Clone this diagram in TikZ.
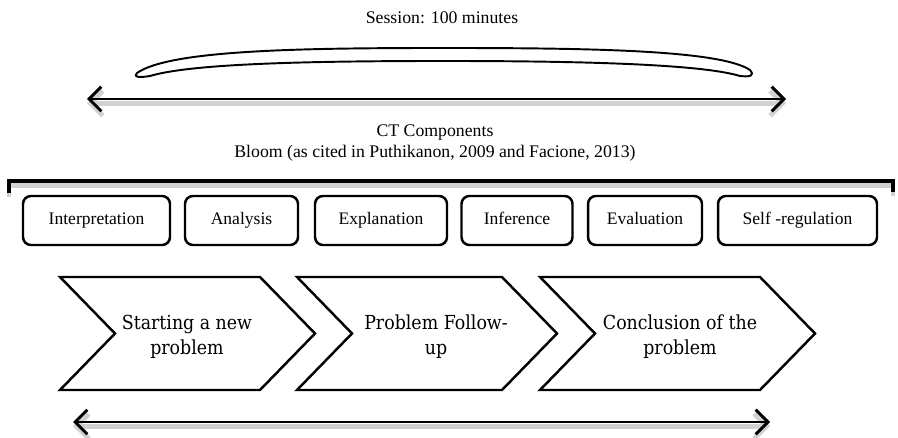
\documentclass[tikz,border=0pt]{standalone}
\usepackage{fontspec}
\setmainfont{Liberation Serif}
\newfontfamily\chevfont[FakeStretch=0.9]{DejaVu Serif}
\usetikzlibrary{arrows.meta}

\tikzset{
  ctbox/.style={draw, line width=1.4pt, rounded corners=4.5pt, minimum height=0.98cm, inner sep=0pt, text height=6.8pt, text depth=2.2pt, font=\fontsize{10}{12}\selectfont},
  chevron/.style={draw, line width=1.4pt, line join=miter},
  stagetext/.style={align=center, font=\chevfont\fontsize{11}{14.2}\selectfont},
  headtext/.style={align=center, font=\fontsize{10.1}{12.4}\selectfont},
  shadowline/.style={preaction={draw=black!18, line width=2.8pt, transform canvas={yshift=-2.4pt}}},
  timeline/.style={line width=1.7pt, {Straight Barb[length=7pt,width=14pt]}-{Straight Barb[length=7pt,width=14pt]}, shadowline},
}

\begin{document}
\begin{tikzpicture}[x=0.02cm, y=-0.02cm]
\useasboundingbox (0,0) rectangle (898,438);

%% The title and the long thin lens above the session arrow.
    \node [headtext] (session) at (442,18) {Session: 100 minutes};
    \draw [line width=1.1pt, line join=round] (137,73) .. controls (170,50) and (300,48) .. (444,48)
        .. controls (590,48) and (720,50) .. (750,70) .. controls (755,76) and (750,77) .. (740,76)
        .. controls (700,64) and (580,61) .. (444,61) .. controls (300,61) and (190,64) .. (150,76)
        .. controls (138,78) and (133,77) .. (137,73) -- cycle;
    \coordinate (topleft) at (87,99);
    \coordinate (topright) at (786,99);
    \draw [timeline] (topleft) -- (topright);

%% Heading of the components and the bracket that holds the boxes.
    \node [headtext] (components) at (435,143) {CT Components\\Bloom (as cited in Puthikanon, 2009 and Facione, 2013)};
    \draw [line width=2pt, shadowline] (9,193) -- (9,181) -- (893,181) -- (893,192);

%% One box for each component.
    \begin{scope}
    \node [ctbox, minimum width=2.94cm] (interp) at (96.5,220.5) {Interpretation};
    \node [ctbox, minimum width=2.26cm] (analysis) at (241.5,220.5) {Analysis};
    \node [ctbox, minimum width=2.64cm] (explain) at (381,220.5) {Explanation};
    \node [ctbox, minimum width=2.22cm] (infer) at (517,220.5) {Inference};
    \node [ctbox, minimum width=2.28cm] (evaluate) at (645,220.5) {Evaluation};
    \node [ctbox, minimum width=3.18cm] (selfreg) at (797.5,220.5) {Self -regulation};
    \end{scope}

%% The three stages of the session as chevrons.
    \draw [chevron] (60,277) -- (260,277) -- (315,333.5) -- (260,390) -- (60,390) -- (115,333.5) -- cycle;
    \draw [chevron] (297,277) -- (502,277) -- (557,333.5) -- (502,390) -- (297,390) -- (352,333.5) -- cycle;
    \draw [chevron] (540,277) -- (760,277) -- (815,333.5) -- (760,390) -- (540,390) -- (595,333.5) -- cycle;
    \node [stagetext] (start) at (187,337) {Starting a new\\problem};
    \node [stagetext] (follow) at (436,337) {Problem Follow-\\up};
    \node [stagetext] (conclude) at (680,337) {Conclusion of the\\problem};

%% The arrow under the stages.
    \coordinate (lowleft) at (73,422);
    \coordinate (lowright) at (770,422);
    \draw [timeline] (lowleft) -- (lowright);
\end{tikzpicture}
\end{document}
